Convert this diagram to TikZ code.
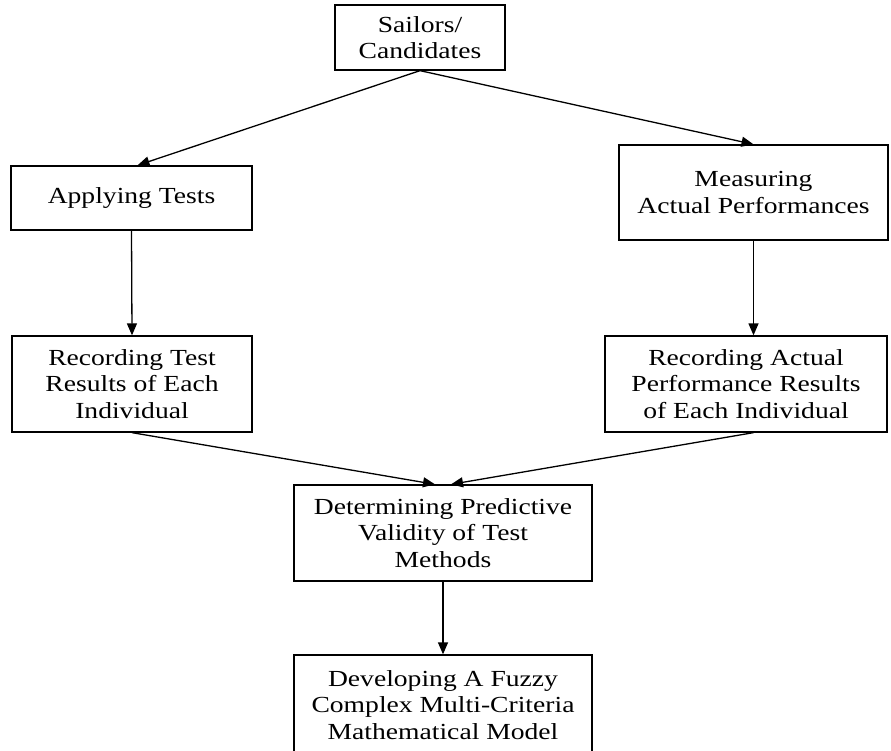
\documentclass[tikz,border=0pt]{standalone}
\usepackage{fontspec}
\setmainfont{Liberation Serif}[FakeStretch=1.2]
\usetikzlibrary{calc,arrows.meta}
\begin{document}
\begin{tikzpicture}[x=1pt,y=-1pt,
    box/.style={draw,line width=1.3pt,align=center,inner sep=0pt,
      font=\fontsize{23}{26.5}\selectfont},
    arr/.style={line width=1.3pt,-{Triangle[length=12pt,width=10pt]}}]
      \useasboundingbox(0,0) rectangle (891,751);
      \node[box,minimum width=170,minimum height=65](sail) at (420,37.5){Sailors/\\Candidates};
      \node[box,minimum width=241,minimum height=64](apply) at (131.5,198){Applying Tests};
      \node[box,minimum width=269,minimum height=95](meas) at (753.5,192.5){Measuring\\Actual Performances};
      \node[box,minimum width=240,minimum height=96](rtest) at (132,384){Recording Test\\Results of Each\\Individual};
      \node[box,minimum width=282,minimum height=96](ract) at (746,384){Recording Actual\\Performance Results\\of Each Individual};
      \node[box,minimum width=298,minimum height=96](det) at (443,533){Determining Predictive\\Validity of Test\\Methods};
      \node[box,minimum width=298,minimum height=100](dev) at (443,705){Developing A Fuzzy\\Complex Multi-Criteria\\Mathematical Model};
      \draw[arr](sail.south)--([xshift=6]apply.north);
      \draw[arr](sail.south)--(meas.north);
      \draw[arr](apply.south)--(rtest.north);
      \draw[arr](meas.south)--(meas.south|-ract.north);
      \draw[arr](rtest.south)--([xshift=-8]det.north);
      \draw[arr](ract.south-|meas.south)--([xshift=8]det.north);
      \draw[arr](det.south)--(dev.north);
    \end{tikzpicture}
\end{document}
